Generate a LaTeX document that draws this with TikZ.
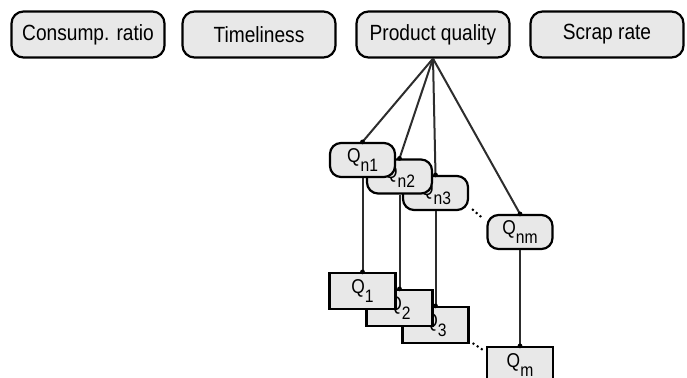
\documentclass[tikz,border=0pt]{standalone}
\usepackage{fontspec}
\setmainfont[FakeStretch=0.87]{Liberation Sans}
\usetikzlibrary{positioning,calc}

\begin{document}
\begin{tikzpicture}[x=1pt, y=-1pt,
  kpi/.style={draw, line width=2.2pt, rounded corners=12pt, fill=gray!18,
              minimum width=153pt, minimum height=46pt, inner sep=0pt,
              font=\fontsize{22}{24}\selectfont},
  qround/.style={draw, line width=2.2pt, rounded corners=11pt, fill=gray!18,
                 minimum width=65pt, minimum height=34pt, inner sep=0pt,
                 font=\fontsize{20}{22}\selectfont},
  qbox/.style={draw, line width=2.2pt, fill=gray!18,
               minimum width=66pt, minimum height=36pt, inner sep=0pt,
               font=\fontsize{20}{22}\selectfont},
  link/.style={line width=2pt, gray!35!black},
  gap/.style={line width=2pt, dash pattern=on 2pt off 3pt},
]
\useasboundingbox (0,0) rectangle (687,377);

\newcommand{\lowidx}[1]{\raisebox{-9pt}{\fontsize{18}{20}\selectfont #1}}

\node[kpi] (cons)  at (88,34.5)  {Consump. ratio};
\node[kpi] (time)  at (259,34.5) {Timeliness};
\node[kpi] (prod)  at (433,34.5) {Product quality};
\node[kpi] (scrap) at (607,34.5) {Scrap rate};

% sub-indicators, back to front
\node[qround] (Qn3) at (435.5,193) {Q\lowidx{n3}};
\node[qround] (Qn2) at (399.5,176.5) {Q\lowidx{n2}};
\node[qround] (Qn1) at (362.5,160) {Q\lowidx{n1}};
\node[qround] (Qnm) at (520,232) {Q\lowidx{nm}};

\node[qbox] (Q3) at (435.5,325) {Q\lowidx{3}};
\node[qbox] (Q2) at (399.5,308) {Q\lowidx{2}};
\node[qbox] (Q1) at (362.5,291) {Q\lowidx{1}};
\node[qbox] (Qm) at (520,365) {Q\lowidx{m}};

\foreach \n in {n1,n2,n3,nm}{
  \draw[link] (prod.south) -- (Q\n.north);
  \fill (Q\n.north) circle (2.4pt);
}
\foreach \a/\b in {n1/1,n2/2,n3/3,nm/m}{
  \draw[link] (Q\a.south) -- (Q\b.north);
  \fill (Q\b.north) circle (2.4pt);
}

\draw[gap] ([shift={(3,-2)}]Qn3.south east) -- ([shift={(-3,5)}]Qnm.north west);
\draw[gap] ([shift={(3,-1)}]Q3.south east) -- ([shift={(-3,4)}]Qm.north west);
\end{tikzpicture}
\end{document}
